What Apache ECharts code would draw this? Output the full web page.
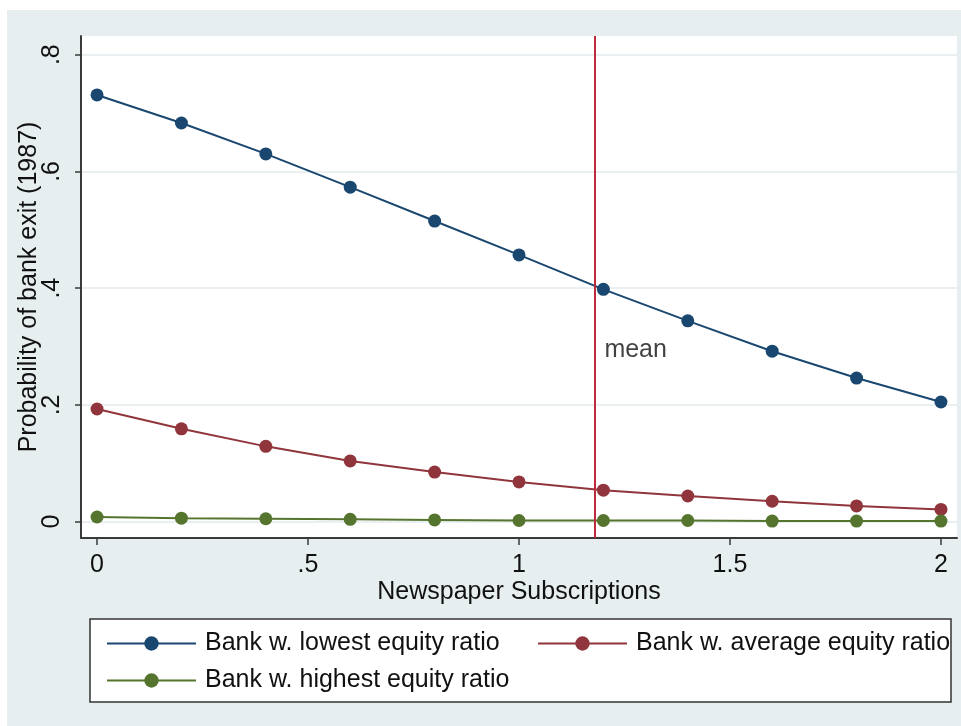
<!DOCTYPE html>
<html>
<head>
<meta charset="utf-8">
<script src="https://cdn.jsdelivr.net/npm/echarts@6/dist/echarts.min.js"></script>
<style>
html,body{margin:0;padding:0;background:#ffffff;}
#chart{width:961px;height:726px;}
</style>
</head>
<body>
<div id="chart"></div>
<script>
// ---- data ----
const subscriptions = [0, 0.2, 0.4, 0.6, 0.8, 1.0, 1.2, 1.4, 1.6, 1.8, 2.0];
const lowestEquity  = [0.731, 0.683, 0.630, 0.573, 0.515, 0.457, 0.398, 0.344, 0.292, 0.246, 0.205];
const averageEquity = [0.193, 0.159, 0.129, 0.104, 0.085, 0.068, 0.054, 0.044, 0.035, 0.027, 0.021];
const highestEquity = [0.008, 0.006, 0.005, 0.004, 0.003, 0.002, 0.002, 0.002, 0.001, 0.001, 0.001];
const meanSubscriptions = 1.181;
const meanLabelY = 0.294;
const xTicks = [0, 0.5, 1, 1.5, 2];
const xTickLabels = ['0', '.5', '1', '1.5', '2'];
const yTicks = [0, 0.2, 0.4, 0.6, 0.8];
const yTickLabels = ['0', '.2', '.4', '.6', '.8'];
const seriesNames = ['Bank w. lowest equity ratio', 'Bank w. average equity ratio', 'Bank w. highest equity ratio'];

const pairs = ys => subscriptions.map((x, i) => [x, ys[i]]);
const FONT = 'Liberation Sans, Arial, Helvetica, sans-serif';
const TXT = '#111111';
const FS = 25;
const colors = ['#1A476F', '#90353B', '#55752F'];

const chart = echarts.init(document.getElementById('chart'), null, {renderer: 'canvas'});

function lineSeries(name, ys, color, extra) {
  return Object.assign({
    name: name,
    type: 'line',
    data: pairs(ys),
    symbol: 'circle',
    symbolSize: 13,
    showSymbol: true,
    lineStyle: {color: color, width: 2},
    itemStyle: {color: color},
    emphasis: {disabled: true},
    animation: false,
    z: 3
  }, extra || {});
}

const option = {
  backgroundColor: '#ffffff',
  animation: false,
  textStyle: {fontFamily: FONT},
  graphic: [
    {type: 'rect', z: -10, shape: {x: 7, y: 10, width: 954, height: 716}, style: {fill: '#E6EEF0'}, silent: true},
    {type: 'rect', z: -5, shape: {x: 90, y: 619, width: 861, height: 83}, style: {fill: '#ffffff', stroke: '#333333', lineWidth: 1.5}, silent: true}
  ],
  grid: {
    left: 81, top: 36, right: 4, bottom: 188,
    outerBoundsMode: 'none',
    containLabel: false,
    show: true, backgroundColor: '#ffffff', borderWidth: 0
  },
  xAxis: {
    type: 'value',
    min: -0.038, max: 2.038,
    name: 'Newspaper Subscriptions',
    nameLocation: 'middle',
    nameMoveOverlap: false,
    nameGap: 42,
    nameTextStyle: {fontSize: FS, color: TXT, fontFamily: FONT},
    axisLine: {show: true, onZero: false, lineStyle: {color: '#3a3a3a', width: 2}},
    axisTick: {show: true, length: 7, lineStyle: {color: '#3a3a3a', width: 1.5}, customValues: xTicks},
    axisLabel: {
      fontSize: FS, color: TXT, fontFamily: FONT, margin: 15,
      customValues: xTicks,
      formatter: v => xTickLabels[xTicks.indexOf(v)] ?? ''
    },
    splitLine: {show: false}
  },
  yAxis: {
    type: 'value',
    min: -0.028, max: 0.832,
    name: 'Probability of bank exit (1987)',
    nameLocation: 'middle',
    nameMoveOverlap: false,
    nameRotate: 90,
    nameGap: 39,
    nameTextStyle: {fontSize: FS, color: TXT, fontFamily: FONT},
    axisLine: {show: true, onZero: false, lineStyle: {color: '#3a3a3a', width: 2}},
    axisTick: {show: true, length: 6, lineStyle: {color: '#3a3a3a', width: 1.5}, customValues: yTicks},
    axisLabel: {
      fontSize: FS, color: TXT, fontFamily: FONT, margin: 16, rotate: 90,
      customValues: yTicks,
      formatter: v => yTickLabels[yTicks.indexOf(v)] ?? ''
    },
    splitLine: {show: true, customValues: yTicks, lineStyle: {color: '#E3EBED', width: 1.5}}
  },
  legend: [
    {
      data: [seriesNames[0], seriesNames[2]],
      orient: 'vertical',
      left: 101, top: 626,
      itemWidth: 89, itemHeight: 18, itemGap: 12,
      selectedMode: false,
      textStyle: {fontSize: FS, color: TXT, fontFamily: FONT, lineHeight: 22, padding: [0, 0, 0, 4]}
    },
    {
      data: [seriesNames[1]],
      orient: 'vertical',
      left: 532, top: 626,
      itemWidth: 89, itemHeight: 18,
      selectedMode: false,
      textStyle: {fontSize: FS, color: TXT, fontFamily: FONT, lineHeight: 22, padding: [0, 0, 0, 4],
                  width: 322, overflow: 'truncate', ellipsis: ''}
    }
  ],
  series: [
    lineSeries(seriesNames[0], lowestEquity, colors[0], {
      markLine: {
        silent: true, symbol: 'none', animation: false,
        lineStyle: {color: '#BE2A3C', width: 2, type: 'solid'},
        label: {show: false},
        emphasis: {disabled: true},
        data: [{xAxis: meanSubscriptions}]
      }
    }),
    lineSeries(seriesNames[1], averageEquity, colors[1]),
    lineSeries(seriesNames[2], highestEquity, colors[2]),
    {
      name: 'meanLabel',
      type: 'scatter',
      data: [[meanSubscriptions, meanLabelY]],
      symbolSize: 0,
      silent: true,
      label: {show: true, formatter: 'mean', position: 'right', distance: 9, fontSize: FS, color: TXT, fontFamily: FONT},
      z: 4
    }
  ]
};
chart.setOption(option);
</script>
</body>
</html>
